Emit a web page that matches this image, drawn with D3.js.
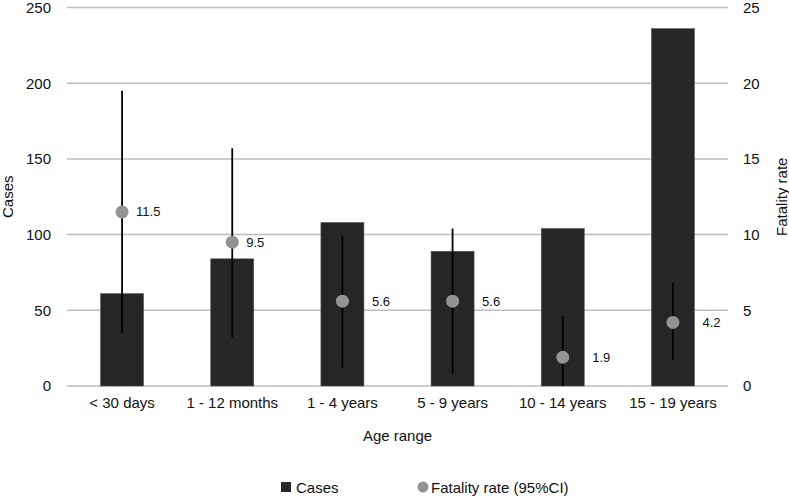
<!DOCTYPE html>
<html><head><meta charset="utf-8">
<script src="https://cdn.jsdelivr.net/npm/d3@7/dist/d3.min.js"></script>
<style>body{margin:0;background:#fff}svg{font-family:"Liberation Sans",Arial,sans-serif}</style>
</head><body><svg id="c" width="789" height="498"></svg>
<script>
const categories = ["< 30 days","1 - 12 months","1 - 4 years","5 - 9 years","10 - 14 years","15 - 19 years"];
const cases = [61, 84, 108, 89, 104, 236];
const fatality = [11.5, 9.5, 5.6, 5.6, 1.9, 4.2];
const ciLow = [3.5, 3.2, 1.2, 0.8, 0.0, 1.7];
const ciHigh = [19.5, 15.7, 9.9, 10.4, 4.6, 6.8];
const leftTicks = [0,50,100,150,200,250];
const rightTicks = [0,5,10,15,20,25];

const svg = d3.select("#c");
const L = 67, R = 728, T = 7.5, B = 386;
const x = d3.scaleBand().domain(categories).range([L, R]).paddingInner(0).paddingOuter(0);
const yL = d3.scaleLinear().domain([0,250]).range([B, T]);
const yR = d3.scaleLinear().domain([0,25]).range([B, T]);
const bw = 43;
const cx = d => x(d)+x.bandwidth()/2;

// gridlines
svg.append("g").selectAll("line").data(leftTicks).join("line")
  .attr("x1", L).attr("x2", R).attr("y1", d=>yL(d)).attr("y2", d=>yL(d))
  .attr("stroke", "#bdbdbd").attr("stroke-width", 1.5);

// bars
svg.append("g").selectAll("rect").data(categories).join("rect")
  .attr("x", d=>cx(d)-bw/2).attr("width", bw)
  .attr("y", (d,i)=>yL(cases[i])).attr("height", (d,i)=>B-yL(cases[i]))
  .attr("fill", "#262626").attr("stroke","#555").attr("stroke-width",0.6);

// error bars
svg.append("g").selectAll("line").data(categories).join("line")
  .attr("x1", cx).attr("x2", cx)
  .attr("y1", (d,i)=>yR(ciLow[i])).attr("y2", (d,i)=>yR(ciHigh[i]))
  .attr("stroke", "#000").attr("stroke-width", 1.8);

// points
svg.append("g").selectAll("circle").data(categories).join("circle")
  .attr("cx", cx).attr("cy", (d,i)=>yR(fatality[i]))
  .attr("r", 6.5).attr("fill", "#939393");

// point labels (placed beside the bar when the point sits inside it)
svg.append("g").selectAll("text").data(categories).join("text")
  .attr("x", (d,i)=> cx(d) + (yR(fatality[i]) > yL(cases[i]) ? bw/2+8 : 14))
  .attr("y", (d,i)=>yR(fatality[i]))
  .attr("dy","0.35em").attr("font-size", 13).attr("fill","#111")
  .text((d,i)=>fatality[i].toFixed(1));

// left axis
const gl = svg.append("g").attr("transform", `translate(${L-16},0)`)
  .call(d3.axisLeft(yL).tickValues(leftTicks).tickSize(0).tickPadding(0));
gl.select(".domain").remove();
gl.selectAll("text").attr("font-size", 15).attr("fill","#111").attr("font-family","Liberation Sans, Arial, sans-serif");

// right axis
const gr = svg.append("g").attr("transform", `translate(${R+15},0)`)
  .call(d3.axisRight(yR).tickValues(rightTicks).tickSize(0).tickPadding(0));
gr.select(".domain").remove();
gr.selectAll("text").attr("font-size", 15).attr("fill","#111").attr("font-family","Liberation Sans, Arial, sans-serif");

// bottom axis
const gb = svg.append("g").attr("transform", `translate(0,${B+8})`)
  .call(d3.axisBottom(x).tickSize(0).tickPadding(0));
gb.select(".domain").remove();
gb.selectAll("text").attr("font-size", 15).attr("fill","#111").attr("dy","0.95em").attr("font-family","Liberation Sans, Arial, sans-serif");

// axis titles
svg.append("text").attr("transform", `translate(13,${(T+B)/2}) rotate(-90)`)
  .attr("text-anchor","middle").attr("font-size",15).attr("fill","#111").text("Cases");
svg.append("text").attr("transform", `translate(787,${(T+B)/2}) rotate(-90)`)
  .attr("text-anchor","middle").attr("font-size",15).attr("fill","#111").text("Fatality rate");
svg.append("text").attr("x", (L+R)/2).attr("y", 441)
  .attr("text-anchor","middle").attr("font-size",15).attr("fill","#111").text("Age range");

// legend
const lg = svg.append("g");
lg.append("rect").attr("x",281).attr("y",482).attr("width",10).attr("height",10).attr("fill","#262626");
lg.append("text").attr("x",296).attr("y",492.5).attr("font-size",15).attr("fill","#111").text("Cases");
lg.append("circle").attr("cx",423).attr("cy",487).attr("r",5.5).attr("fill","#939393");
lg.append("text").attr("x",431).attr("y",492.5).attr("font-size",15).attr("fill","#111").text("Fatality rate (95%CI)");
</script></body></html>
